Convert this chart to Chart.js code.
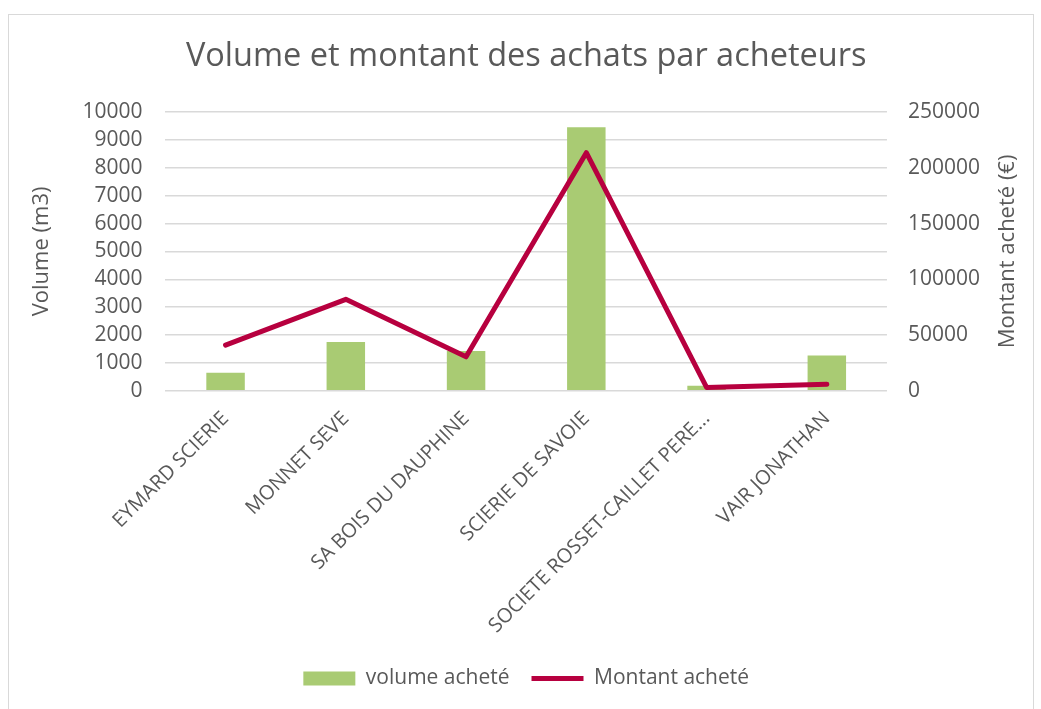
<!DOCTYPE html>
<html>
<head>
<meta charset="utf-8">
<script src="https://cdn.jsdelivr.net/npm/chart.js@4/dist/chart.umd.min.js"></script>
<style>
    html, body { margin: 0; padding: 0; background: #fff; }
    .frame {
        position: absolute;
        left: 8px;
        top: 14px;
        width: 1026px;
        height: 700px;
        border: 1px solid #d9d9d9;
        box-sizing: border-box;
    }
</style>
</head>
<body>
<div class="frame">
    <canvas id="myChart"></canvas>
</div>
<script>
// --- Data ---
const categories = [
    'EYMARD SCIERIE',
    'MONNET SEVE',
    'SA BOIS DU DAUPHINE',
    'SCIERIE DE SAVOIE',
    'SOCIETE ROSSET-CAILLET PERE...',
    'VAIR JONATHAN'
];
const volumeValues = [650, 1750, 1430, 9450, 180, 1270];
const montantValues = [41000, 82000, 30500, 213500, 3000, 6000];
const volumeTicks = [0, 1000, 2000, 3000, 4000, 5000, 6000, 7000, 8000, 9000, 10000];
const montantTicks = [0, 50000, 100000, 150000, 200000, 250000];

const textColor = '#595959';
const gridColor = '#d9d9d9';
const fontFamily = "'Open Sans', 'Liberation Sans', sans-serif";

// right axis title reads bottom-to-top, Chart.js draws it the other way
const rightTitle = {
    id: 'rightTitle',
    afterDraw(chart) {
        const ctx = chart.ctx;
        const area = chart.chartArea;
        const scale = chart.scales.y1;
        ctx.save();
        ctx.translate(scale.right + 7, (area.top + area.bottom) / 2);
        ctx.rotate(-Math.PI / 2);
        ctx.fillStyle = textColor;
        ctx.font = '22px ' + fontFamily;
        ctx.textAlign = 'center';
        ctx.textBaseline = 'middle';
        ctx.fillText('Montant acheté (€)', 0, 0);
        ctx.restore();
    }
};

const ctx = document.getElementById('myChart').getContext('2d');
const myChart = new Chart(ctx, {
    data: {
        labels: categories,
        datasets: [
            {
                type: 'line',
                label: 'Montant acheté',
                data: montantValues,
                yAxisID: 'y1',
                borderColor: '#b7003f',
                backgroundColor: '#b7003f',
                borderWidth: 5,
                borderCapStyle: 'round',
                borderJoinStyle: 'round',
                pointRadius: 0,
                pointStyle: 'line',
                tension: 0,
                order: 1
            },
            {
                type: 'bar',
                label: 'volume acheté',
                data: volumeValues,
                yAxisID: 'y',
                backgroundColor: '#a9cb73',
                borderWidth: 0,
                pointStyle: 'rect',
                categoryPercentage: 1,
                barPercentage: 0.32,
                order: 2
            }
        ]
    },
    options: {
        responsive: true,
        maintainAspectRatio: false,
        animation: false,
        layout: {
            padding: { left: 20, right: 32, top: 10, bottom: 14 }
        },
        scales: {
            x: {
                grid: { display: false },
                border: { display: false },
                ticks: {
                    color: textColor,
                    font: { family: fontFamily, size: 20 },
                    minRotation: 45,
                    maxRotation: 45,
                    autoSkip: false,
                    padding: 8
                }
            },
            y: {
                position: 'left',
                min: 0,
                max: 10000,
                afterBuildTicks: function (scale) {
                    scale.ticks = volumeTicks.map(v => ({ value: v }));
                },
                grid: { color: gridColor, lineWidth: 1.5, drawTicks: false },
                border: { display: false },
                ticks: {
                    color: textColor,
                    font: { family: fontFamily, size: 21 },
                    padding: 23,
                    autoSkip: false,
                    callback: function (value) { return String(value); }
                },
                title: {
                    display: true,
                    text: 'Volume (m3)',
                    color: textColor,
                    font: { family: fontFamily, size: 22 },
                    padding: { top: 0, bottom: 4 }
                }
            },
            y1: {
                position: 'right',
                min: 0,
                max: 250000,
                afterBuildTicks: function (scale) {
                    scale.ticks = montantTicks.map(v => ({ value: v }));
                },
                grid: { display: false, drawTicks: false },
                border: { display: false },
                ticks: {
                    color: textColor,
                    font: { family: fontFamily, size: 21 },
                    padding: 21,
                    autoSkip: false,
                    callback: function (value) { return String(value); }
                }
            }
        },
        plugins: {
            title: {
                display: true,
                fullSize: false,
                text: 'Volume et montant des achats par acheteurs',
                color: textColor,
                font: { family: fontFamily, size: 32.5, weight: 'normal' },
                padding: { top: 12, bottom: 36 }
            },
            legend: {
                position: 'bottom',
                fullSize: false,
                reverse: true,
                labels: {
                    color: textColor,
                    font: { family: fontFamily, size: 21 },
                    usePointStyle: true,
                    pointStyleWidth: 52,
                    boxHeight: 14,
                    padding: 22
                }
            },
            tooltip: { enabled: false }
        }
    },
    plugins: [rightTitle]
});
</script>
</body>
</html>
